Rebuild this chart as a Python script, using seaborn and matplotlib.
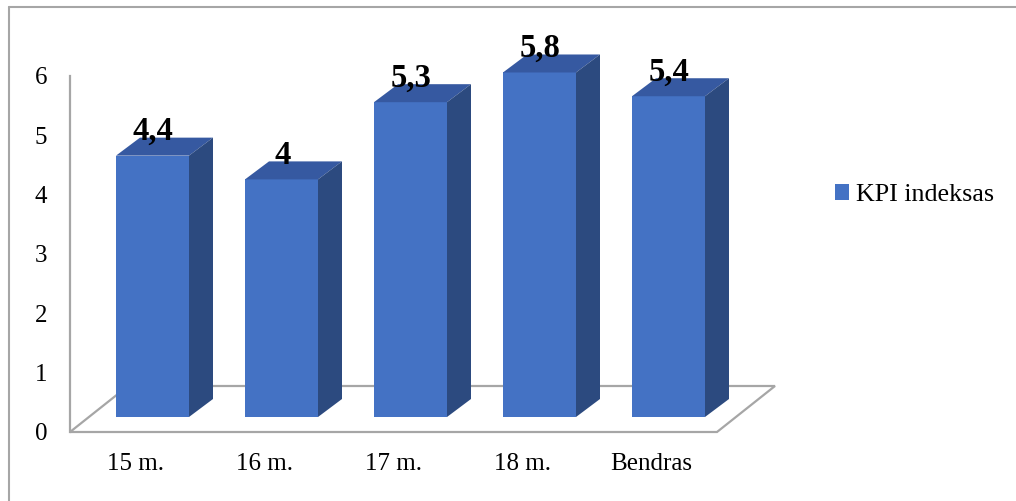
import numpy as np
import pandas as pd
import matplotlib
matplotlib.use("Agg")
import matplotlib.pyplot as plt
from matplotlib.patches import Polygon, Rectangle
from matplotlib.lines import Line2D
import seaborn as sns

# Chart data
categories = ["15 m.", "16 m.", "17 m.", "18 m.", "Bendras"]
kpi_values = [4.4, 4.0, 5.3, 5.8, 5.4]
value_labels = ["4,4", "4", "5,3", "5,8", "5,4"]
series_name = "KPI indeksas"
y_ticks = [0, 1, 2, 3, 4, 5, 6]

df = pd.DataFrame({"period": categories, "kpi": kpi_values})

sns.set_style("white")
plt.rcParams["font.family"] = ["Liberation Serif", "DejaVu Serif"]
plt.rcParams["text.color"] = "black"

FRONT = "#4472C4"
TOP = "#3659A1"
SIDE = "#2C4A7F"
GRID = "#A6A6A6"

W, H, DPI = 1016, 501, 100
fig = plt.figure(figsize=(W / DPI, H / DPI), dpi=DPI)
ax = fig.add_axes([0, 0, 1, 1])

# pixel scale of the plotting area
px_x, px_y = 129.0, 59.4
x0_px, y0_px = 152.5, 417.0

# oblique depth offsets
bar_dx, bar_dy = 24 / px_x, 18 / px_y
floor_front = -15 / px_y
floor_left = (70 - x0_px) / px_x
floor_right = (717 - x0_px) / px_x
floor_dx, floor_dy = 58 / px_x, 46 / px_y

# floor plane
fl = [(floor_left, floor_front), (floor_right, floor_front),
      (floor_right + floor_dx, floor_front + floor_dy),
      (floor_left + floor_dx, floor_front + floor_dy)]
ax.add_patch(Polygon(fl, closed=True, fill=False, edgecolor=GRID,
                     linewidth=1.6, zorder=1))

sns.barplot(data=df, x="period", y="kpi", color=FRONT, width=73 / px_x,
            saturation=1, label=series_name, ax=ax, zorder=3, linewidth=0)

ax.set_xlim(-x0_px / px_x, (W - x0_px) / px_x)
ax.set_ylim((y0_px - H) / px_y, y0_px / px_y)

# top and side faces of each column
bars = [p for p in ax.patches if isinstance(p, Rectangle)]
for patch, lbl in zip(bars, value_labels):
    x, w, h = patch.get_x(), patch.get_width(), patch.get_height()
    top = [(x, h), (x + w, h), (x + w + bar_dx, h + bar_dy), (x + bar_dx, h + bar_dy)]
    side = [(x + w, 0), (x + w + bar_dx, bar_dy), (x + w + bar_dx, h + bar_dy), (x + w, h)]
    ax.add_patch(Polygon(top, closed=True, facecolor=TOP, edgecolor="none", zorder=3))
    ax.add_patch(Polygon(side, closed=True, facecolor=SIDE, edgecolor="none", zorder=3))
    ax.annotate(lbl, xy=(x + w / 2, h), xytext=(0.5, 11.2), textcoords="offset points",
                ha="center", va="baseline", fontsize=23.5, fontweight="bold",
                color="black", zorder=5)

# axes styling
for s in ["top", "right"]:
    ax.spines[s].set_visible(False)
ax.spines["bottom"].set_position(("data", floor_front))
ax.spines["bottom"].set_visible(False)
ax.spines["left"].set_position(("data", floor_left))
ax.spines["left"].set_bounds(floor_front, floor_front + 6)
ax.spines["left"].set_color(GRID)
ax.spines["left"].set_linewidth(1.6)

ax.set_yticks([v + floor_front for v in y_ticks], [str(v) for v in y_ticks])
ax.set_xticks(np.arange(len(categories)) - 17 / px_x, categories)
ax.tick_params(axis="y", length=0, pad=16.5, labelsize=18, labelcolor="black")
ax.tick_params(axis="x", length=0, pad=15, labelsize=18, labelcolor="black")
ax.set_xlabel("")
ax.set_ylabel("")

leg = ax.legend(loc="center left", bbox_to_anchor=(835 / W, 1 - 195 / H),
                bbox_transform=fig.transFigure, frameon=False, fontsize=18.7,
                handlelength=0.54, handleheight=0.54, handletextpad=0.25,
                borderpad=0, borderaxespad=0)
for t in leg.get_texts():
    t.set_color("black")

# chart frame
fig.add_artist(Line2D([9 / W, 1], [1 - 7 / H, 1 - 7 / H], color=GRID, lw=1.5,
                      transform=fig.transFigure))
fig.add_artist(Line2D([9 / W, 9 / W], [0, 1 - 7 / H], color=GRID, lw=1.5,
                      transform=fig.transFigure))

fig.savefig("out.png", dpi=DPI)
